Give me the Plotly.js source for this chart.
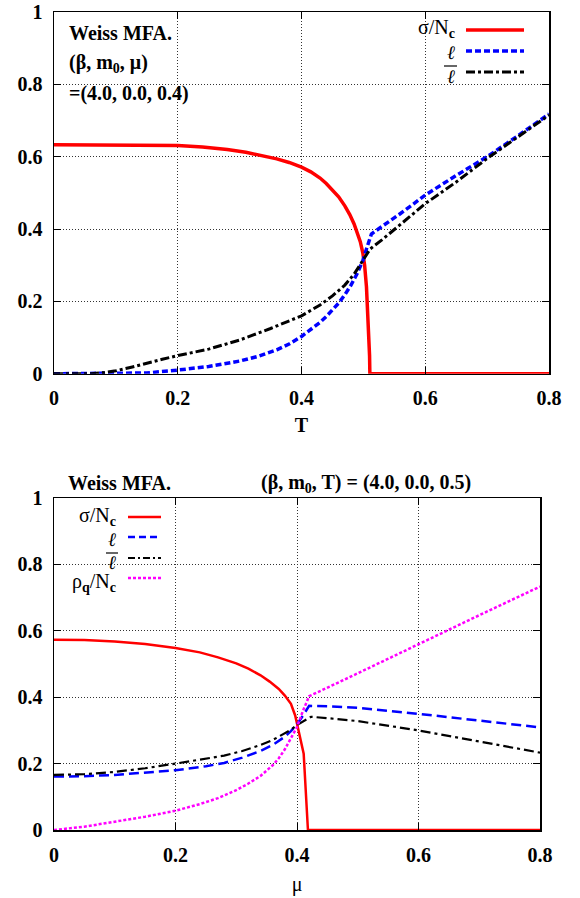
<!DOCTYPE html>
<html>
<head>
<meta charset="utf-8">
<script src="https://cdn.plot.ly/plotly-3.0.1.min.js"></script>
<style>html,body{margin:0;padding:0;background:#fff;}#chart{width:580px;height:898px;}</style>
</head>
<body>
<div id="chart"></div>
<script>
// ---- Top panel: vs T at (beta, m0, mu) = (4.0, 0.0, 0.4) ----
const topSigmaT = [0, 0.1, 0.15, 0.2, 0.24, 0.28, 0.31, 0.34, 0.36, 0.38, 0.4, 0.415, 0.43, 0.44, 0.45, 0.46, 0.47, 0.478, 0.485, 0.49, 0.495, 0.499, 0.502, 0.505, 0.507, 0.5085, 0.51, 0.5105, 0.6, 0.7, 0.8];
const topSigma  = [0.633, 0.633, 0.632, 0.631, 0.627, 0.62, 0.612, 0.602, 0.594, 0.584, 0.571, 0.558, 0.541, 0.526, 0.509, 0.489, 0.464, 0.44, 0.414, 0.392, 0.365, 0.335, 0.3, 0.24, 0.18, 0.12, 0.05, 0, 0, 0, 0];

const topLT = [0, 0.1, 0.15, 0.2, 0.25, 0.3, 0.33, 0.36, 0.38, 0.4, 0.415, 0.43, 0.44, 0.45, 0.46, 0.47, 0.48, 0.49, 0.499, 0.505, 0.51, 0.513, 0.52, 0.54, 0.56, 0.58, 0.6, 0.65, 0.7, 0.75, 0.8];
const topL  = [0, 0, 0.002, 0.01, 0.02, 0.035, 0.048, 0.066, 0.082, 0.103, 0.122, 0.142, 0.158, 0.175, 0.195, 0.218, 0.245, 0.277, 0.312, 0.345, 0.373, 0.386, 0.395, 0.418, 0.443, 0.468, 0.494, 0.548, 0.6, 0.658, 0.718];

const topLbarT = [0, 0.06, 0.08, 0.1, 0.125, 0.15, 0.175, 0.2, 0.25, 0.3, 0.35, 0.4, 0.43, 0.45, 0.47, 0.485, 0.499, 0.505, 0.511, 0.53, 0.55, 0.6, 0.65, 0.7, 0.75, 0.8];
const topLbar  = [0, 0, 0.003, 0.008, 0.018, 0.03, 0.04, 0.05, 0.068, 0.093, 0.125, 0.16, 0.19, 0.215, 0.245, 0.275, 0.312, 0.33, 0.345, 0.37, 0.398, 0.47, 0.53, 0.595, 0.655, 0.715];

// ---- Bottom panel: vs mu at (beta, m0, T) = (4.0, 0.0, 0.5) ----
const botSigmaMu = [0, 0.05, 0.1, 0.15, 0.2, 0.24, 0.27, 0.3, 0.32, 0.34, 0.355, 0.37, 0.38, 0.39, 0.397, 0.4, 0.405, 0.411, 0.418, 0.5, 0.6, 0.7, 0.8];
const botSigma   = [0.573, 0.572, 0.568, 0.56, 0.548, 0.535, 0.52, 0.502, 0.486, 0.466, 0.447, 0.425, 0.405, 0.38, 0.345, 0.322, 0.285, 0.23, 0, 0, 0, 0, 0];

const botLMu = [0, 0.05, 0.1, 0.15, 0.2, 0.25, 0.28, 0.31, 0.34, 0.36, 0.38, 0.39, 0.4, 0.41, 0.42, 0.45, 0.5, 0.6, 0.7, 0.8];
const botL   = [0.161, 0.162, 0.166, 0.172, 0.18, 0.192, 0.202, 0.218, 0.238, 0.256, 0.281, 0.298, 0.318, 0.345, 0.374, 0.373, 0.368, 0.35, 0.33, 0.309];

const botLbarMu = [0, 0.05, 0.1, 0.15, 0.2, 0.25, 0.28, 0.31, 0.34, 0.36, 0.38, 0.39, 0.4, 0.41, 0.423, 0.45, 0.5, 0.6, 0.7, 0.8];
const botLbar   = [0.166, 0.168, 0.175, 0.186, 0.2, 0.214, 0.224, 0.238, 0.256, 0.271, 0.29, 0.302, 0.316, 0.326, 0.341, 0.337, 0.328, 0.3, 0.267, 0.233];

const botRhoMu = [0, 0.05, 0.1, 0.15, 0.2, 0.24, 0.27, 0.3, 0.32, 0.34, 0.36, 0.37, 0.38, 0.39, 0.4, 0.41, 0.42, 0.5, 0.6, 0.7, 0.8];
const botRho   = [0, 0.01, 0.025, 0.04, 0.058, 0.078, 0.096, 0.12, 0.14, 0.163, 0.195, 0.216, 0.243, 0.275, 0.31, 0.36, 0.403, 0.472, 0.56, 0.647, 0.733];

const xTicks = [0, 0.2, 0.4, 0.6, 0.8];
const xTickText = ['0', '0.2', '0.4', '0.6', '0.8'];
const yTicks = [0, 0.2, 0.4, 0.6, 0.8, 1];
const yTickText = ['0', '0.2', '0.4', '0.6', '0.8', '1'];

// ---- styling ----
const SERIF = '"Liberation Serif", "DejaVu Serif", serif';
const RED = '#ff0000', BLUE = '#0000ff', BLACK = '#000000', MAGENTA = '#ff00ff';
const W = 580, H = 898, ML = 54, MR = 31;
const PW = W - ML - MR;
const px = x => (x - ML) / PW;
const py = y => (H - y) / H;

const traces = [
  {x: topSigmaT, y: topSigma, xaxis: 'x', yaxis: 'y', mode: 'lines', line: {color: RED, width: 3.5}},
  {x: topLT, y: topL, xaxis: 'x', yaxis: 'y', mode: 'lines', line: {color: BLUE, width: 3.5, dash: '6px,3px'}},
  {x: topLbarT, y: topLbar, xaxis: 'x', yaxis: 'y', mode: 'lines', line: {color: BLACK, width: 3, dash: '9px,3px,3px,3px'}},
  {x: botSigmaMu, y: botSigma, xaxis: 'x2', yaxis: 'y2', mode: 'lines', line: {color: RED, width: 2.5}},
  {x: botLMu, y: botL, xaxis: 'x2', yaxis: 'y2', mode: 'lines', line: {color: BLUE, width: 2.5, dash: '10px,5px'}},
  {x: botLbarMu, y: botLbar, xaxis: 'x2', yaxis: 'y2', mode: 'lines', line: {color: BLACK, width: 2.2, dash: '10px,4px,3px,4px'}},
  {x: botRhoMu, y: botRho, xaxis: 'x2', yaxis: 'y2', mode: 'lines', line: {color: MAGENTA, width: 2.5, dash: '3px,2px'}}
];

const tickFont = {family: SERIF, size: 20, color: '#000', weight: 'bold'};
function axis(extra) {
  return Object.assign({
    showline: true, linecolor: '#000', linewidth: 1.5, mirror: 'ticks',
    ticks: 'inside', ticklen: 7, tickwidth: 1, tickcolor: '#000',
    showgrid: true, gridcolor: '#333', gridwidth: 1, griddash: '1px,2px',
    zeroline: false, tickfont: tickFont, fixedrange: true
  }, extra);
}

const layout = {
  width: W, height: H,
  margin: {l: ML, r: MR, t: 0, b: 0},
  paper_bgcolor: '#fff', plot_bgcolor: '#fff',
  showlegend: false,
  font: {family: SERIF, color: '#000'},
  xaxis: axis({domain: [0, 1], anchor: 'y', range: [0, 0.8], tickvals: xTicks, ticktext: xTickText, ticklabelstandoff: 6,
    title: {text: '<b>T</b>', font: {family: SERIF, size: 20, color: '#000'}, standoff: 10}}),
  yaxis: axis({domain: [py(373.7), py(12)], anchor: 'x', range: [0, 1], tickvals: yTicks, ticktext: yTickText, ticklabelstandoff: 6}),
  xaxis2: axis({domain: [0, px(540)], anchor: 'y2', range: [0, 0.8], tickvals: xTicks, ticktext: xTickText, ticklabelstandoff: 6,
    title: {text: 'μ', font: {family: SERIF, size: 20, color: '#000'}, standoff: 12}}),
  yaxis2: axis({domain: [py(830), py(498)], anchor: 'x2', range: [0, 1], tickvals: yTicks, ticktext: yTickText, ticklabelstandoff: 6}),
  annotations: [],
  shapes: []
};

function ann(text, x, y, xanchor, size, extra) {
  layout.annotations.push(Object.assign({
    text: text, xref: 'paper', yref: 'paper', x: px(x), y: py(y),
    xanchor: xanchor, yanchor: 'middle', showarrow: false,
    font: {family: SERIF, size: size, color: '#000'}
  }, extra || {}));
}
function seg(x0, x1, y, line) {
  layout.shapes.push({type: 'line', xref: 'paper', yref: 'paper', x0: px(x0), x1: px(x1), y0: py(y), y1: py(y), line: line});
}

// top panel texts
ann('<b>Weiss MFA.</b>', 67, 33, 'left', 20);
ann('<b>(β, m<sub>0</sub>, μ)</b>', 67, 64, 'left', 20);
ann('<b>=(4.0, 0.0, 0.4)</b>', 67, 93, 'left', 20);
// top legend
ann('σ/N<sub><b>c</b></sub>', 457, 29, 'right', 20);
ann('<i>ℓ</i>', 457, 53, 'right', 19);
ann('<i>ℓ</i>', 457, 76, 'right', 19);
seg(444, 457, 66, {color: '#000', width: 1.2});
seg(466, 524, 30, {color: RED, width: 3.5});
seg(466, 524, 51, {color: BLUE, width: 3.5, dash: '6px,3px'});
seg(466, 524, 72, {color: BLACK, width: 3, dash: '9px,3px,3px,3px'});

// bottom panel texts
ann('<b>Weiss MFA.</b>', 66, 483, 'left', 20);
ann('<b>(β, m<sub>0</sub>, T) = (4.0, 0.0, 0.5)</b>', 473, 483, 'right', 20);
// bottom legend
ann('σ/N<sub><b>c</b></sub>', 118, 516, 'right', 20);
ann('<i>ℓ</i>', 118, 539, 'right', 19);
ann('<i>ℓ</i>', 118, 562, 'right', 19);
seg(106, 118, 553, {color: '#000', width: 1.2});
ann('ρ<sub><b>q</b></sub>/N<sub><b>c</b></sub>', 118, 582, 'right', 20);
seg(128, 161, 517, {color: RED, width: 2.5});
seg(128, 161, 537, {color: BLUE, width: 2.5, dash: '7px,4px'});
seg(128, 161, 558, {color: BLACK, width: 2.2, dash: '7px,3px,2px,3px'});
seg(128, 161, 578, {color: MAGENTA, width: 2.5, dash: '3px,2px'});

Plotly.newPlot('chart', traces, layout, {staticPlot: true, displayModeBar: false});
</script>
</body>
</html>
